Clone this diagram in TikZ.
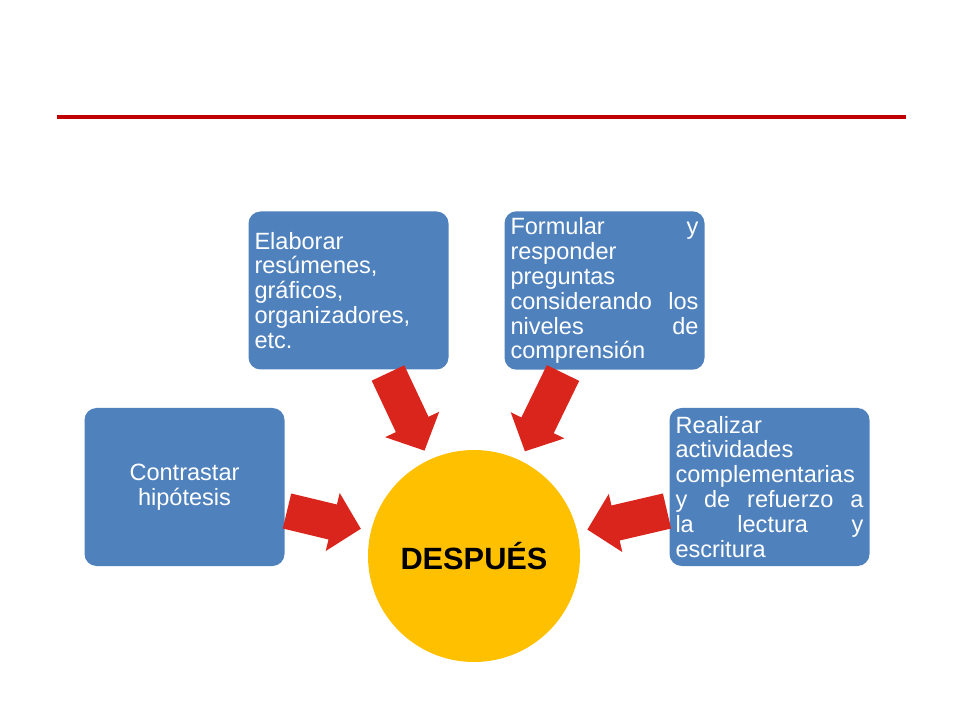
\documentclass[tikz,border=0pt]{standalone}
\usepackage{fontspec}
\setmainfont{Liberation Sans}
\usetikzlibrary{arrows.meta}
\definecolor{boxblue}{RGB}{79,129,189}
\definecolor{sunyellow}{RGB}{255,192,0}
\definecolor{arrowred}{RGB}{218,37,29}
\definecolor{linered}{RGB}{192,0,0}
\hyphenpenalty=10000
\exhyphenpenalty=10000
\hbadness=10000
\begin{document}
\begin{tikzpicture}
[
task/.style={rectangle, rounded corners=0.24cm, fill=boxblue, text=white,
  text width=3.76cm, inner xsep=0.12cm, minimum height=3.16cm,
  font=\fontsize{13.4}{14.2}\selectfont},
sun/.style={circle, fill=sunyellow, minimum size=4.24cm, inner sep=0pt,
  font=\fontsize{17.5}{20}\selectfont\bfseries},
flow/.style={arrowred, line width=0.72cm,
  -{Triangle[width=1.16cm, length=0.58cm]}, shorten >=0.2cm},
]
\useasboundingbox (0,0) rectangle (19.2,14.4);
%
\draw [linered, line width=0.08cm] (1.14,12.06) -- (18.12,12.06);

\node [sun]  (C)  at ( 9.48, 3.28)  {DESPUÉS};
%
\node [task, align=center]  (B1)  at ( 3.69, 4.66)  {Contrastar\\hipótesis};
\node [task, align=left]    (B2)  at ( 6.97, 8.59)
  {Elaborar\\resúmenes,\\gráficos,\\organizadores,\\etc.};
\node [task, align=justify] (B3)  at (12.09, 8.59)
  {Formular y\linebreak responder\linebreak preguntas\linebreak
   considerando los\linebreak niveles de\linebreak comprensión};
\node [task, align=justify] (B4)  at (15.39, 4.66)
  {Realizar\linebreak actividades\linebreak complementarias\linebreak
   y de refuerzo a\linebreak la lectura y\linebreak escritura};
%
\coordinate (T1) at ( 5.74, 4.18);
\coordinate (T2) at ( 7.76, 6.94);
\coordinate (T3) at (11.26, 6.94);
\coordinate (T4) at (13.34, 4.18);
%
\draw [flow]  (T1) -- (C) ;
\draw [flow]  (T2) -- (C) ;
\draw [flow]  (T3) -- (C) ;
\draw [flow]  (T4) -- (C) ;
%
\end{tikzpicture}
\end{document}
